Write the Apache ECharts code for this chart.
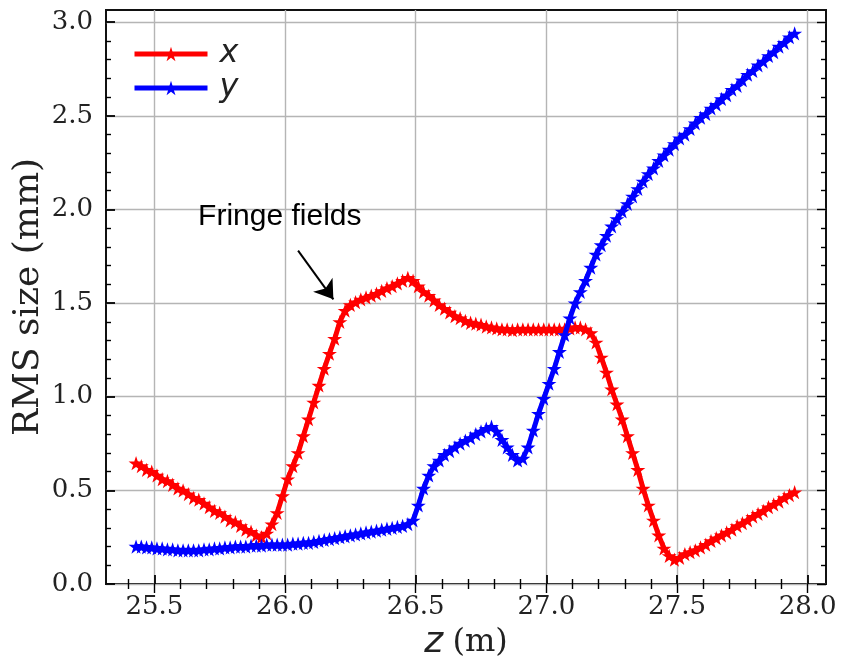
<!DOCTYPE html>
<html>
<head>
<meta charset="utf-8">
<script src="https://cdn.jsdelivr.net/npm/echarts@6/dist/echarts.min.js"></script>
<style>html,body{margin:0;padding:0;background:#fff}#c{width:843px;height:660px}</style>
</head>
<body>
<div id="c"></div>
<script>
// z positions (m)
var zs = [
 25.43,25.45,25.47,25.49,25.51,25.53,25.55,25.57,25.59,25.61,
 25.63,25.65,25.67,25.69,25.71,25.73,25.75,25.77,25.79,25.81,
 25.83,25.85,25.87,25.89,25.91,25.93,25.95,25.97,25.99,26.01,
 26.03,26.05,26.07,26.09,26.11,26.13,26.15,26.17,26.19,26.21,
 26.23,26.25,26.27,26.29,26.31,26.33,26.35,26.37,26.39,26.41,
 26.43,26.45,26.47,26.49,26.51,26.53,26.55,26.57,26.59,26.61,
 26.63,26.65,26.67,26.69,26.71,26.73,26.75,26.77,26.79,26.81,
 26.83,26.85,26.87,26.89,26.91,26.93,26.95,26.97,26.99,27.01,
 27.03,27.05,27.07,27.09,27.11,27.13,27.15,27.17,27.19,27.21,
 27.23,27.25,27.27,27.29,27.31,27.33,27.35,27.37,27.39,27.41,
 27.43,27.45,27.47,27.49,27.51,27.53,27.55,27.57,27.59,27.61,
 27.63,27.65,27.67,27.69,27.71,27.73,27.75,27.77,27.79,27.81,
 27.83,27.85,27.87,27.89,27.91,27.93,27.95
];
// RMS size x (mm)
var xRms = [
 0.645,0.63,0.61,0.60,0.58,0.56,0.55,0.53,0.51,0.50,
 0.48,0.46,0.45,0.43,0.41,0.39,0.38,0.36,0.34,0.33,
 0.31,0.29,0.28,0.26,0.25,0.27,0.32,0.38,0.47,0.56,
 0.63,0.70,0.79,0.88,0.97,1.06,1.15,1.23,1.31,1.40,
 1.46,1.49,1.505,1.52,1.53,1.54,1.55,1.565,1.58,1.59,
 1.605,1.62,1.635,1.62,1.59,1.56,1.54,1.515,1.49,1.47,
 1.45,1.43,1.42,1.405,1.395,1.39,1.385,1.375,1.37,1.365,
 1.36,1.36,1.355,1.36,1.36,1.36,1.36,1.36,1.36,1.36,
 1.36,1.36,1.36,1.365,1.37,1.37,1.36,1.34,1.29,1.21,
 1.13,1.04,0.96,0.88,0.79,0.70,0.61,0.51,0.42,0.34,
 0.26,0.19,0.15,0.13,0.14,0.16,0.17,0.18,0.195,0.21,
 0.23,0.245,0.26,0.275,0.29,0.31,0.325,0.34,0.36,0.375,
 0.39,0.41,0.425,0.44,0.46,0.475,0.49
];
// RMS size y (mm)
var yRms = [
 0.20,0.20,0.195,0.195,0.19,0.19,0.185,0.185,0.18,0.18,
 0.18,0.18,0.18,0.185,0.185,0.19,0.19,0.195,0.195,0.20,
 0.20,0.20,0.205,0.205,0.205,0.21,0.21,0.21,0.21,0.21,
 0.215,0.215,0.22,0.22,0.225,0.23,0.235,0.24,0.245,0.25,
 0.255,0.26,0.265,0.27,0.275,0.28,0.285,0.29,0.295,0.30,
 0.305,0.31,0.32,0.34,0.42,0.51,0.58,0.63,0.66,0.69,
 0.71,0.73,0.75,0.765,0.78,0.80,0.815,0.83,0.84,0.815,
 0.77,0.73,0.69,0.66,0.67,0.73,0.82,0.91,0.99,1.07,
 1.15,1.24,1.33,1.42,1.50,1.56,1.62,1.69,1.76,1.81,
 1.86,1.91,1.95,1.99,2.03,2.07,2.11,2.15,2.19,2.22,
 2.26,2.29,2.32,2.35,2.38,2.40,2.43,2.46,2.49,2.51,
 2.54,2.56,2.59,2.61,2.64,2.66,2.69,2.72,2.74,2.77,
 2.79,2.82,2.84,2.87,2.89,2.92,2.94
];
var xMajor = [25.5, 26.0, 26.5, 27.0, 27.5, 28.0];
var xMinor = [25.4,25.6,25.7,25.8,25.9,26.1,26.2,26.3,26.4,26.6,26.7,26.8,26.9,27.1,27.2,27.3,27.4,27.6,27.7,27.8,27.9];
var yMajor = [0.0, 0.5, 1.0, 1.5, 2.0, 2.5, 3.0];
var yMinor = [0.1,0.2,0.3,0.4,0.6,0.7,0.8,0.9,1.1,1.2,1.3,1.4,1.6,1.7,1.8,1.9,2.1,2.2,2.3,2.4,2.6,2.7,2.8,2.9];
var seriesNames = ['x', 'y'];
var annotationText = 'Fringe fields';
var annotationPos = [25.98, 1.96];
var arrowFrom = [26.05, 1.78];
var arrowTo = [26.185, 1.52];

var X_MIN = 25.315, X_MAX = 28.07, Y_MIN = 0, Y_MAX = 3.065;
var STAR = 'path://M100,0 L122.45,69.1 L195.1,69.1 L136.3,111.8 L158.8,180.9 L100,138.2 L41.2,180.9 L63.7,111.8 L4.9,69.1 L77.55,69.1 Z';
var serif = 'DejaVu Serif';

function tickAxis(kind, pos, vals, len) {
  return {
    type: 'value', position: pos, min: kind === 'x' ? X_MIN : Y_MIN, max: kind === 'x' ? X_MAX : Y_MAX,
    axisLine: {show: false},
    axisTick: {show: true, inside: true, length: len, customValues: vals, lineStyle: {color: '#000', width: 1.4}},
    axisLabel: {show: false},
    splitLine: {show: false}
  };
}

var xAxes = [
  {
    type: 'value', position: 'bottom', min: X_MIN, max: X_MAX, splitNumber: 5,
    axisLine: {show: false},
    axisTick: {show: true, inside: true, length: 9, customValues: xMajor, lineStyle: {color: '#000', width: 1.8}},
    axisLabel: {show: true, customValues: xMajor, margin: 10, fontFamily: serif, fontSize: 26, color: '#222',
      formatter: function (v) { return v.toFixed(1); }},
    splitLine: {show: true, lineStyle: {color: '#b5b5b5', width: 1.4}},
    name: '{i|z} {s|(m)}', nameLocation: 'middle', nameGap: 28,
    nameTextStyle: {rich: {
      i: {fontFamily: 'DejaVu Sans', fontStyle: 'italic', fontSize: 36, color: '#222', padding: [0, 6, 0, 0]},
      s: {fontFamily: serif, fontSize: 32, color: '#222'}
    }}
  },
  tickAxis('x', 'bottom', xMinor, 5),
  tickAxis('x', 'top', xMajor, 9),
  tickAxis('x', 'top', xMinor, 5)
];
var yAxes = [
  {
    type: 'value', position: 'left', min: Y_MIN, max: Y_MAX, splitNumber: 6,
    axisLine: {show: false},
    axisTick: {show: true, inside: true, length: 9, customValues: yMajor, lineStyle: {color: '#000', width: 1.8}},
    axisLabel: {show: true, customValues: yMajor, margin: 13, fontFamily: serif, fontSize: 26, color: '#222',
      formatter: function (v) { return v.toFixed(1); }},
    splitLine: {show: true, lineStyle: {color: '#b5b5b5', width: 1.4}},
    name: 'RMS size (mm)', nameLocation: 'middle', nameGap: 59, nameRotate: 90, nameMoveOverlap: false,
    nameTextStyle: {fontFamily: serif, fontSize: 36, color: '#222'}
  },
  tickAxis('y', 'left', yMinor, 5),
  tickAxis('y', 'right', yMajor, 9),
  tickAxis('y', 'right', yMinor, 5)
];

function pairs(vals) { return zs.map(function (z, i) { return [z, vals[i]]; }); }

var chart = echarts.init(document.getElementById('c'), null, {renderer: 'canvas'});
chart.setOption({
  animation: false,
  backgroundColor: '#fff',
  grid: {left: 106, right: 17, top: 10, bottom: 76, containLabel: false, outerBoundsMode: 'none',
    show: true, borderColor: '#111', borderWidth: 2, backgroundColor: 'transparent'},
  legend: {
    orient: 'vertical', left: 132, top: 37, padding: 0, itemGap: 0,
    itemWidth: 73, itemHeight: 18,
    lineStyle: {width: 5},
    textStyle: {fontFamily: 'DejaVu Sans', fontStyle: 'italic', fontSize: 32, color: '#222', lineHeight: 34, padding: [0, 0, 0, 7]},
    data: seriesNames
  },
  xAxis: xAxes,
  yAxis: yAxes,
  series: [
    {
      name: seriesNames[0], type: 'line', data: pairs(xRms), color: '#ff0000',
      symbol: STAR, symbolSize: 15, symbolKeepAspect: true, showAllSymbol: true,
      lineStyle: {width: 5, color: '#ff0000'}, itemStyle: {color: '#ff0000'},
      z: 3,
      markLine: {
        silent: true, symbol: ['none', 'arrow'], symbolSize: 18,
        lineStyle: {color: '#000', width: 2, type: 'solid'},
        label: {show: false},
        data: [[{coord: arrowFrom}, {coord: arrowTo}]]
      },
      markPoint: {
        silent: true, symbol: 'circle', symbolSize: 1, itemStyle: {color: 'rgba(0,0,0,0)'},
        label: {show: true, position: 'inside', formatter: annotationText, color: '#000',
          fontFamily: 'Liberation Sans', fontSize: 30},
        data: [{coord: annotationPos}]
      }
    },
    {
      name: seriesNames[1], type: 'line', data: pairs(yRms), color: '#0000ff',
      symbol: STAR, symbolSize: 15, symbolKeepAspect: true, showAllSymbol: true,
      lineStyle: {width: 5, color: '#0000ff'}, itemStyle: {color: '#0000ff'},
      z: 4
    }
  ]
});
</script>
</body>
</html>
